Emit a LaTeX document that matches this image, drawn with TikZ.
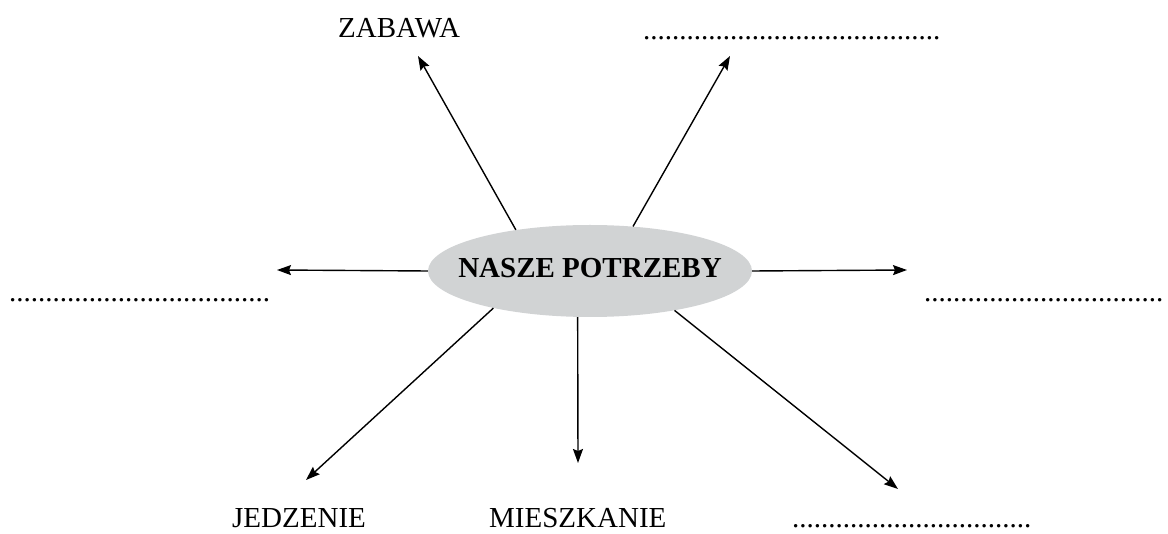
\documentclass[tikz,border=0pt]{standalone}
\usepackage{fontspec}
\setmainfont{Liberation Serif}
\usetikzlibrary{arrows.meta,shapes.geometric}
\definecolor{bubble}{HTML}{D1D3D4}
\tikzset{
  lbl/.style={anchor=base west,inner sep=0pt,font=\fontsize{29}{30}\selectfont},
  arr/.style={line width=1.4pt,-{Stealth[length=14pt,width=10pt,inset=2pt]}},
}
\begin{document}
\begin{tikzpicture}[x=1pt,y=-1pt]
\useasboundingbox (0,0) rectangle (1168,534);
\node (c) [ellipse,fill=bubble,minimum width=324pt,minimum height=92pt,inner sep=0pt] at (590,271) {};
\node (ct) [inner sep=0pt,font=\fontsize{29}{30}\selectfont\bfseries] at (590,268) {NASZE POTRZEBY};
% labels
\node (zab) [lbl] at (338,38) {ZABAWA};
\node (tr) [lbl] at (643,40) {.........................................};
\node (le) [lbl] at (9,302) {....................................};
\node (ri) [lbl] at (924,302) {.................................};
\node (jed) [lbl] at (232,528) {JEDZENIE};
\node (mie) [lbl] at (489,528) {MIESZKANIE};
\node (br) [lbl] at (792,528) {.................................};
% arrow tips
\coordinate (t1) at (418,56);
\coordinate (t2) at (730,56);
\coordinate (t3) at (277,270);
\coordinate (t4) at (907,270);
\coordinate (t5) at (306,480);
\coordinate (t6) at (578,463);
\coordinate (t7) at (898,489);
\draw[arr] (c.151) -- (t1);
\draw[arr] (c.46.4) -- (t2);
\draw[arr] (c.180) -- (t3);
\draw[arr] (c.0) -- (t4);
\draw[arr] (c.201.8) -- (t5);
\draw[arr] (c.255.3) -- (t6);
\draw[arr] (c.335) -- (t7);
\end{tikzpicture}
\end{document}
